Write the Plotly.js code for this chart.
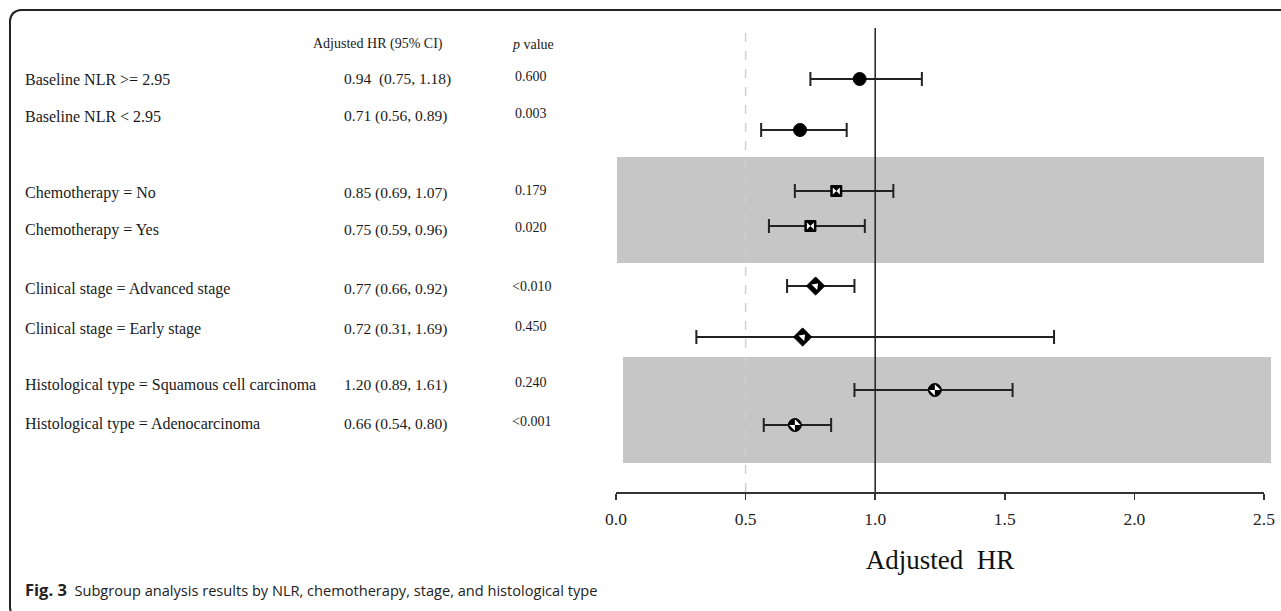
<!DOCTYPE html>
<html>
<head>
<meta charset="utf-8">
<script src="https://cdn.plot.ly/plotly-3.0.1.min.js"></script>
<style>
  html, body { margin: 0; padding: 0; background: #fff; }
  #wrap { position: relative; width: 1281px; height: 611px; overflow: hidden; }
  #chart { position: absolute; left: 0; top: 0; width: 1281px; height: 611px; }
  #frame { position: absolute; left: 9px; top: 9px; width: 1300px; height: 606px;
           border-top: 2px solid #222; border-left: 2px solid #222; border-bottom: 2px solid #222;
           border-top-left-radius: 12px; border-bottom-left-radius: 12px; pointer-events: none; }
</style>
</head>
<body>
<div id="wrap">
  <div id="chart"></div>
  <div id="frame"></div>
</div>
<script>
// ---- data ----
const labels = [
  "Baseline NLR &gt;= 2.95",
  "Baseline NLR &lt; 2.95",
  "Chemotherapy = No",
  "Chemotherapy = Yes",
  "Clinical stage = Advanced stage",
  "Clinical stage = Early stage",
  "Histological type = Squamous cell carcinoma",
  "Histological type = Adenocarcinoma"
];
const ciText = [
  "0.94&nbsp; (0.75, 1.18)",
  "0.71 (0.56, 0.89)",
  "0.85 (0.69, 1.07)",
  "0.75 (0.59, 0.96)",
  "0.77 (0.66, 0.92)",
  "0.72 (0.31, 1.69)",
  "1.20 (0.89, 1.61)",
  "0.66 (0.54, 0.80)"
];
const pText = ["0.600", "0.003", "0.179", "0.020", "&lt;0.010", "0.450", "0.240", "&lt;0.001"];
// plotted estimates and CI limits as drawn in the figure
const hr   = [0.94, 0.71, 0.85, 0.75, 0.77, 0.72, 1.23, 0.69];
const ciLo = [0.75, 0.56, 0.69, 0.59, 0.66, 0.31, 0.92, 0.57];
const ciHi = [1.18, 0.89, 1.07, 0.96, 0.92, 1.69, 1.53, 0.83];
const tickVals = [0, 0.5, 1.0, 1.5, 2.0, 2.5];
const tickText = ["0.0", "0.5", "1.0", "1.5", "2.0", "2.5"];
const groupSymbol = ["nlr", "nlr", "chemo", "chemo", "stage", "stage", "hist", "hist"];

// ---- layout helpers (row positions, in px from top of plot area) ----
const markRow = [51, 102, 163, 198, 258, 309, 362, 397];
const textRow = [51, 88, 165, 202, 261, 301, 357, 396];
const pRow    = [48, 85, 162, 199, 258, 298, 354, 393];

const serif = "Liberation Serif, Times New Roman, serif";
const ink = "#1a1a1a";

function idx(g) { const r = []; groupSymbol.forEach((s, i) => { if (s === g) r.push(i); }); return r; }
function pick(arr, ids) { return ids.map(i => arr[i]); }

const traces = [];
const baseStyle = {
  nlr:   { symbol: "circle", size: 13, color: "#000" },
  chemo: { symbol: "square", size: 11, color: "#000" },
  stage: { symbol: "diamond", size: 14, color: "#000" },
  hist:  { symbol: "circle", size: 13, color: "#000" }
};
const overlayStyle = {
  chemo: { symbol: "bowtie", size: 7, color: "#fff", angle: 0 },
  stage: { symbol: "triangle-right", size: 7, color: "#fff", angle: -45 },
  hist:  { symbol: "hourglass", size: 8, color: "#fff", angle: 45 }
};
["nlr", "chemo", "stage", "hist"].forEach(g => {
  const ids = idx(g);
  const x = pick(hr, ids);
  traces.push({
    type: "scatter", mode: "markers", x: x, y: pick(markRow, ids),
    marker: { symbol: baseStyle[g].symbol, size: baseStyle[g].size, color: baseStyle[g].color,
              line: { width: 1, color: "#000" } },
    error_x: { type: "data", symmetric: false,
               array: ids.map(i => ciHi[i] - hr[i]),
               arrayminus: ids.map(i => hr[i] - ciLo[i]),
               color: "#222", thickness: 2, width: 7 },
    hoverinfo: "skip", showlegend: false, cliponaxis: false
  });
  if (overlayStyle[g]) {
    const o = overlayStyle[g];
    traces.push({
      type: "scatter", mode: "markers", x: x, y: pick(markRow, ids),
      marker: { symbol: o.symbol, size: o.size, color: o.color, angle: o.angle, line: { width: 0 } },
      hoverinfo: "skip", showlegend: false, cliponaxis: false
    });
  }
});

// ---- annotations (table text) ----
const W = 648, left = 616;
const px = p => (p - left) / W;
const ann = [];
const rowFont = { family: serif, size: 16, color: ink };
const smallFont = { family: serif, size: 14, color: ink };
ann.push({ xref: "paper", yref: "y", x: px(378), y: 16, text: "Adjusted HR (95% CI)",
           showarrow: false, xanchor: "center", yanchor: "middle", font: smallFont });
ann.push({ xref: "paper", yref: "y", x: px(510), y: 16, text: "<i>p</i> value",
           showarrow: false, xanchor: "left", yanchor: "middle", font: smallFont });
labels.forEach((t, i) => {
  ann.push({ xref: "paper", yref: "y", x: px(23), y: textRow[i], text: t, showarrow: false,
             xanchor: "left", yanchor: "middle", font: rowFont });
  ann.push({ xref: "paper", yref: "y", x: px(342), y: textRow[i], text: ciText[i], showarrow: false,
             xanchor: "left", yanchor: "middle", font: { family: serif, size: 15.5, color: ink } });
  ann.push({ xref: "paper", yref: "y", x: px(i === 4 || i === 7 ? 510 : 513), y: pRow[i], text: pText[i], showarrow: false,
             xanchor: "left", yanchor: "middle", font: smallFont });
});
ann.push({ xref: "paper", yref: "paper", x: px(23), y: (492 - 589) / 464,
           text: "<b><span style=\"font-size:16.5px\">Fig. 3</span></b>&nbsp; Subgroup analysis results by NLR, chemotherapy, stage, and histological type",
           showarrow: false, xanchor: "left", yanchor: "middle",
           font: { family: "Open Sans, Noto Sans, sans-serif", size: 14.6, color: "#222" } });

const py = p => (492 - p) / 464;
const shapes = [
  { type: "rect", xref: "paper", yref: "paper", x0: px(617), x1: px(1264), y0: py(263), y1: py(157),
    fillcolor: "#c6c6c6", line: { width: 0 }, layer: "below" },
  { type: "rect", xref: "paper", yref: "paper", x0: px(623), x1: px(1271), y0: py(463), y1: py(357),
    fillcolor: "#c6c6c6", line: { width: 0 }, layer: "below" },
  { type: "line", xref: "x", yref: "paper", x0: 0.5, x1: 0.5, y0: 0, y1: 1,
    line: { color: "#cfcfcf", width: 1.5, dash: "dash" }, layer: "below" },
  { type: "line", xref: "x", yref: "paper", x0: 1.0, x1: 1.0, y0: 0, y1: 1,
    line: { color: "#222", width: 1.5 }, layer: "below" }
];

const layout = {
  width: 1281, height: 611,
  margin: { l: 616, r: 17, t: 28, b: 119, pad: 0 },
  paper_bgcolor: "rgba(0,0,0,0)", plot_bgcolor: "rgba(0,0,0,0)",
  showlegend: false,
  xaxis: {
    range: [0, 2.5], tickvals: tickVals, ticktext: tickText,
    showline: true, linecolor: "#333", linewidth: 1.5, mirror: false,
    ticks: "outside", ticklen: 6, tickwidth: 1.5, tickcolor: "#333",
    showgrid: false, zeroline: false, ticklabelstandoff: 4,
    tickfont: { family: serif, size: 17.5, color: "#222" },
    title: { text: "Adjusted&nbsp; HR", font: { family: serif, size: 27, color: "#111" }, standoff: 22 },
    fixedrange: true
  },
  yaxis: {
    range: [464, 0], visible: false, showgrid: false, zeroline: false, fixedrange: true
  },
  shapes: shapes,
  annotations: ann
};

Plotly.newPlot("chart", traces, layout, { staticPlot: true, displayModeBar: false });
</script>
</body>
</html>
